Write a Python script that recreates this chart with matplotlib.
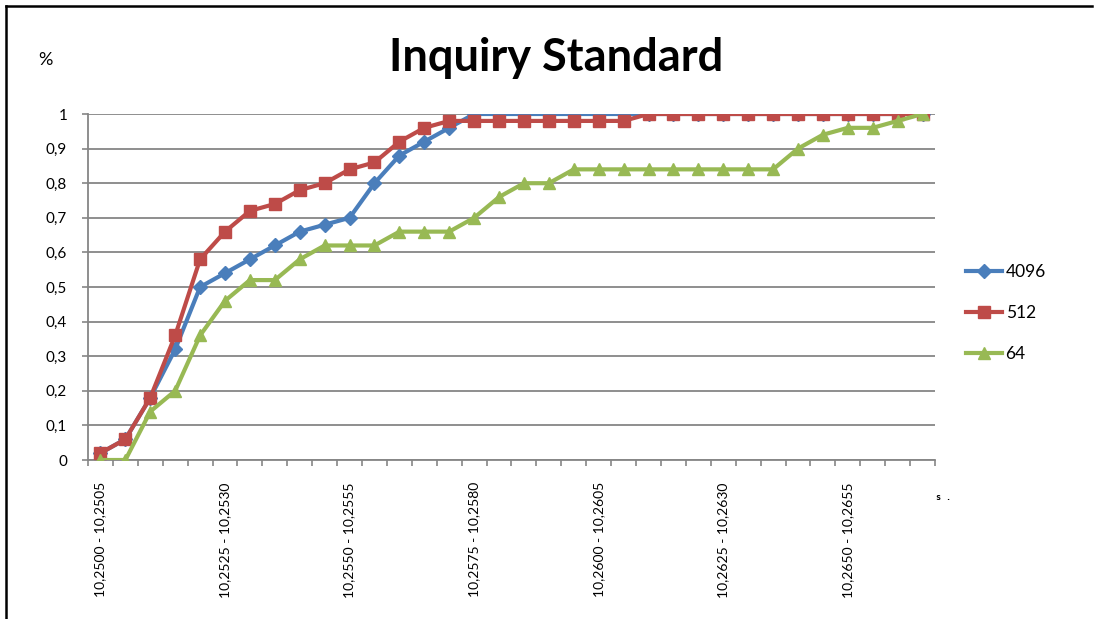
"""Inquiry Standard: cumulative share per price bucket."""

import matplotlib
matplotlib.use("Agg")
import matplotlib.pyplot as plt
from matplotlib.lines import Line2D
import numpy as np

# bucket lower bounds, 10,2500 .. 10,2665 in steps of 0,0005
lower = [f"10,{2500 + 5 * i}" for i in range(34)]
upper = [f"10,{2505 + 5 * i}" for i in range(34)]
categories = [f"{a} - {b}" for a, b in zip(lower, upper)]

s4096 = [0.02, 0.06, 0.18, 0.32, 0.50, 0.54, 0.58, 0.62, 0.66, 0.68,
         0.70, 0.80, 0.88, 0.92, 0.96, 1.00, 1.00, 1.00, 1.00, 1.00,
         1.00, 1.00, 1.00, 1.00, 1.00, 1.00, 1.00, 1.00, 1.00, 1.00,
         1.00, 1.00, 1.00, 1.00]
s512 = [0.02, 0.06, 0.18, 0.36, 0.58, 0.66, 0.72, 0.74, 0.78, 0.80,
        0.84, 0.86, 0.92, 0.96, 0.98, 0.98, 0.98, 0.98, 0.98, 0.98,
        0.98, 0.98, 1.00, 1.00, 1.00, 1.00, 1.00, 1.00, 1.00, 1.00,
        1.00, 1.00, 1.00, 1.00]
s64 = [0.00, 0.00, 0.14, 0.20, 0.36, 0.46, 0.52, 0.52, 0.58, 0.62,
       0.62, 0.62, 0.66, 0.66, 0.66, 0.70, 0.76, 0.80, 0.80, 0.84,
       0.84, 0.84, 0.84, 0.84, 0.84, 0.84, 0.84, 0.84, 0.90, 0.94,
       0.96, 0.96, 0.98, 1.00]

series = [("4096", s4096, "#4A7EBB", "D", 7.5),
          ("512", s512, "#BE4B48", "s", 8.5),
          ("64", s64, "#98B954", "^", 9.0)]

plt.rcParams["font.family"] = ["Lato", "DejaVu Sans"]

W, H = 1101, 619
fig = plt.figure(figsize=(W / 100, H / 100), dpi=100)
ax = fig.add_axes([88 / W, 1 - 460 / H, (935 - 88) / W, (460 - 114) / H])

x = np.arange(len(categories))
grid_c = "#868686"
for name, vals, col, mk, ms in series:
    ax.plot(x, vals, color=col, lw=3.0, marker=mk, ms=ms, mfc=col, mec=col,
            label=name, zorder=3)

ax.set_xlim(-0.5, len(categories) - 0.5)
ax.set_ylim(0, 1)
yt = np.round(np.arange(0, 1.01, 0.1), 1)
ax.set_yticks(yt)
ax.set_yticklabels(["0" if v == 0 else ("1" if v == 1 else f"{v:.1f}".replace(".", ",")) for v in yt])
ax.yaxis.grid(True, color=grid_c, lw=1.3)
ax.set_axisbelow(True)

ax.set_xticks(x[::5])
ax.set_xticklabels(categories[::5], rotation=90, va="top")
ax.set_xticks(np.arange(-0.5, len(categories)), minor=True)
ax.tick_params(axis="x", which="major", length=0, pad=16, labelsize=10)
ax.tick_params(axis="x", which="minor", length=4, color=grid_c, width=1.2)
ax.tick_params(axis="y", length=4, color=grid_c, width=1.2, pad=11, labelsize=11)

for s in ["top", "right"]:
    ax.spines[s].set_visible(False)
for s in ["left", "bottom"]:
    ax.spines[s].set_color(grid_c)
    ax.spines[s].set_linewidth(1.3)

fig.text(556 / W, 1 - 58 / H, "Inquiry Standard", ha="center", va="center",
         fontsize=32.5, fontweight="bold")
fig.text(45 / W, 1 - 60 / H, "%", ha="center", va="center", fontsize=13)
fig.text(944 / W, 1 - 497 / H, "s .", ha="center", va="center", fontsize=6,
         family="DejaVu Sans Mono", fontweight="bold")

fig.legend(loc="center left", bbox_to_anchor=(950 / W, 1 - 313 / H),
           frameon=False, fontsize=12.5, labelspacing=1.45, handlelength=2.1,
           handletextpad=0.2)

# frame around the chart object
fig.add_artist(Line2D([6 / W, 1092 / W], [1 - 5.5 / H, 1 - 5.5 / H],
                      color="black", lw=1.8))
fig.add_artist(Line2D([6.5 / W, 6.5 / W], [0, 1 - 5.5 / H],
                      color="black", lw=1.8))

fig.savefig("out.png", dpi=100)
plt.close(fig)
